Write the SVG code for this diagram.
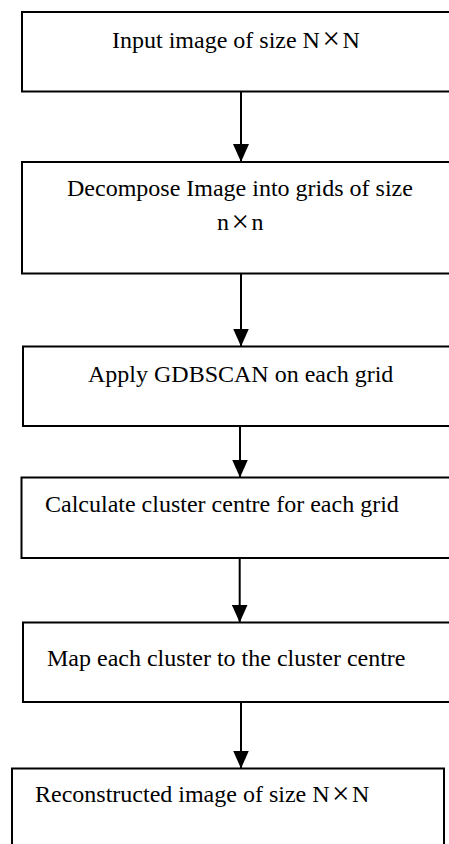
<svg xmlns="http://www.w3.org/2000/svg" width="449" height="844" viewBox="0 0 449 844">
<style>
.box{fill:#fff;stroke:#000;stroke-width:2}
.lbl{font-family:'Liberation Serif',serif;font-size:24px;fill:#000}
.x{font-size:31px}
.edge{stroke:#000;stroke-width:2;fill:none}
</style>
<defs>
<marker id="ah" markerUnits="userSpaceOnUse" markerWidth="18" markerHeight="16" refX="18" refY="8" orient="auto" viewBox="0 0 18 16">
<path d="M0,0 L18,8 L0,16 z" fill="#000"/>
</marker>
</defs>
<rect width="449" height="844" fill="#fff"/>
<g id="n1"><rect class="box" x="22" y="12" width="450" height="79.5"/><text class="lbl" x="112" y="47.5">Input image of size N<tspan class="x" dx="2.5" dy="1.5">×</tspan><tspan dx="2.5" dy="-1.5">N</tspan></text></g>
<g id="n2"><rect class="box" x="22" y="162" width="450" height="111.5"/><text class="lbl" x="67" y="196">Decompose Image into grids of size</text><text class="lbl" x="217" y="230">n<tspan class="x" dx="2.5" dy="1.5">×</tspan><tspan dx="2.5" dy="-1.5">n</tspan></text></g>
<g id="n3"><rect class="box" x="23" y="346.5" width="450" height="79.5"/><text class="lbl" x="88" y="381.5">Apply GDBSCAN on each grid</text></g>
<g id="n4"><rect class="box" x="21.5" y="477.5" width="450" height="80.5"/><text class="lbl" x="45" y="512">Calculate cluster centre for each grid</text></g>
<g id="n5"><rect class="box" x="23" y="622.5" width="450" height="79.5"/><text class="lbl" x="47" y="665.5">Map each cluster to the cluster centre</text></g>
<g id="n6"><rect class="box" x="12" y="768.5" width="432" height="90"/><text class="lbl" x="35" y="802">Reconstructed image of size N<tspan class="x" dx="2.5" dy="1.5">×</tspan><tspan dx="2.5" dy="-1.5">N</tspan></text></g>
<g id="edges">
<line class="edge" x1="241" y1="91.5" x2="241" y2="162" marker-end="url(#ah)"/>
<line class="edge" x1="241" y1="273.5" x2="241" y2="346.5" marker-end="url(#ah)"/>
<line class="edge" x1="240" y1="426" x2="240" y2="477.5" marker-end="url(#ah)"/>
<line class="edge" x1="239.7" y1="558" x2="239.7" y2="622.5" marker-end="url(#ah)"/>
<line class="edge" x1="241" y1="702" x2="241" y2="768.5" marker-end="url(#ah)"/>
</g>
</svg>
